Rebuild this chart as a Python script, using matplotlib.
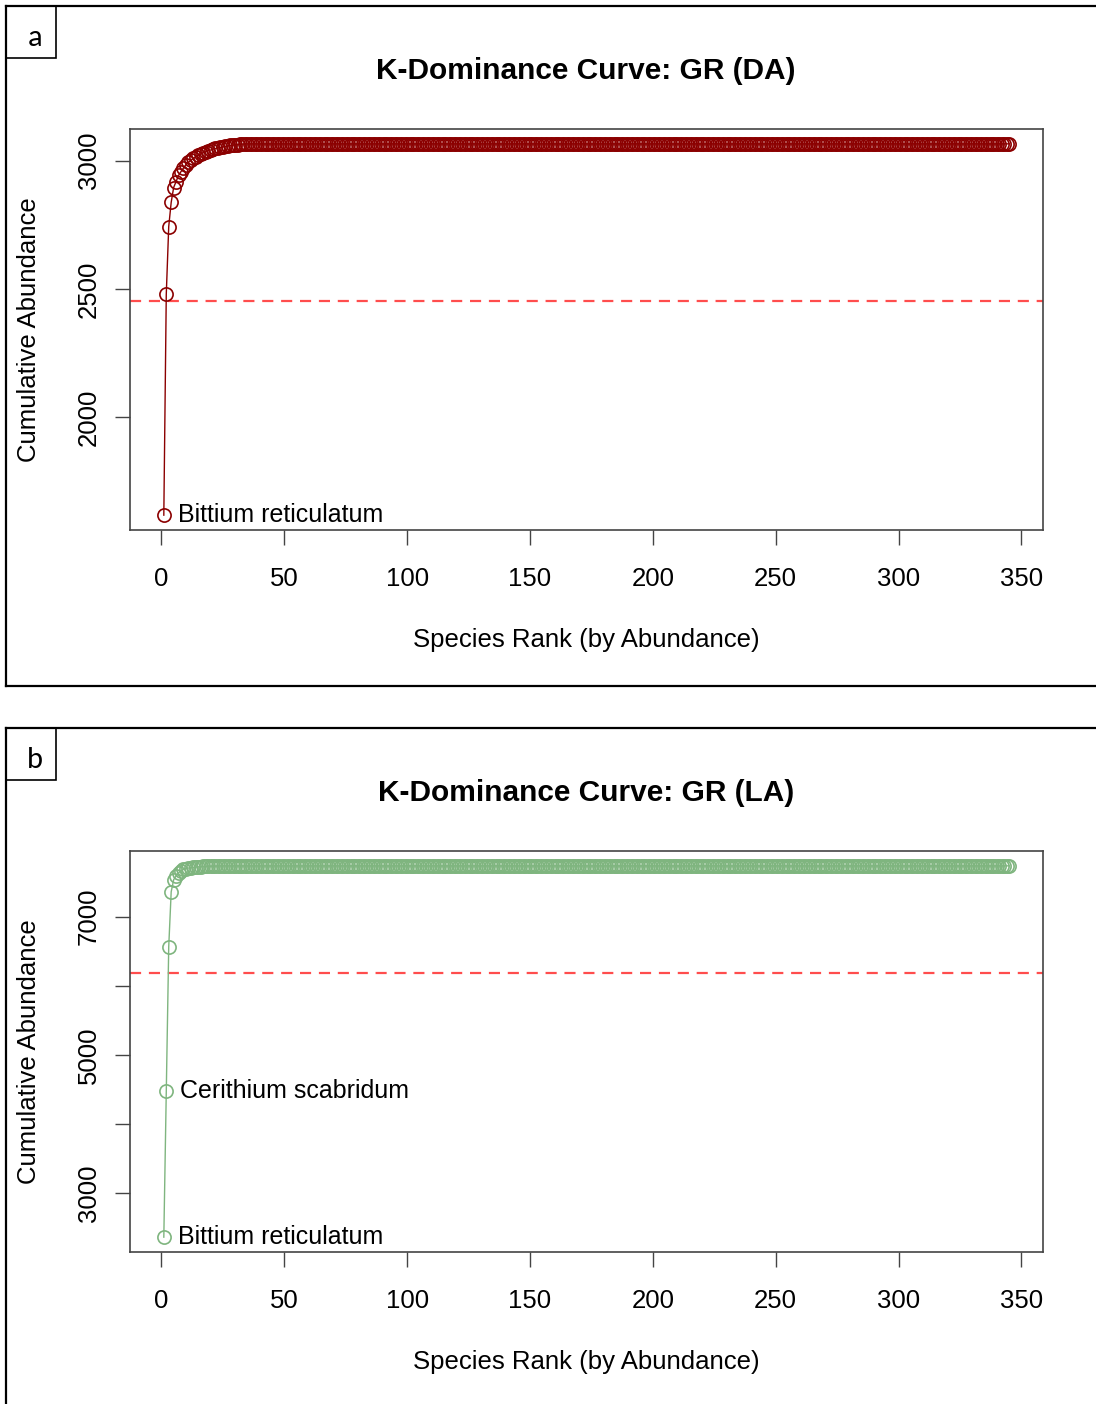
import numpy as np
import matplotlib
matplotlib.use("Agg")
import matplotlib.pyplot as plt
from matplotlib.lines import Line2D
from matplotlib.patches import Rectangle

plt.rcParams["font.family"] = ["Liberation Sans", "DejaVu Sans"]

N_SPECIES = 345

# abundances of the species present, ranked; remaining species are absent (0)
abund_da = [1619, 860, 264, 94, 58, 23, 24, 15, 14, 13,
            9, 8, 7, 6, 6, 5, 5, 4, 4, 3, 3, 3,
            2, 2, 2, 2, 2, 2, 1, 1, 1, 1, 1, 1]
abund_la = [2365, 2108, 2094, 794, 173, 58, 43, 29, 20, 12,
            8, 6, 5, 4, 3, 3, 2, 2, 2, 1, 1, 1, 1, 1]

labels_da = {1: "Bittium reticulatum"}
labels_la = {1: "Bittium reticulatum", 2: "Cerithium scabridum"}

xticks = [0, 50, 100, 150, 200, 250, 300, 350]
yticks_da = [2000, 2500, 3000]
yticks_la = [3000, 4000, 5000, 6000, 7000]
ylabels_la = ["3000", "", "5000", "", "7000"]

W, H = 1096, 1404
fig = plt.figure(figsize=(W / 100, H / 100), dpi=100)


def fx(px):
    return px / W


def fy(py):
    return 1 - py / H


def panel(top, bottom, letter):
    # outer frame of the panel, open on the right
    kw = dict(color="black", lw=1.6, transform=fig.transFigure)
    fig.add_artist(Line2D([fx(6), 1.0], [fy(top), fy(top)], **kw))
    fig.add_artist(Line2D([fx(6), fx(6)], [fy(top), fy(bottom)], **kw))
    if bottom < H:
        fig.add_artist(Line2D([fx(6), 1.0], [fy(bottom), fy(bottom)], **kw))
    fig.add_artist(Rectangle((fx(6), fy(top + 52)), fx(50), 52 / H,
                             fill=False, ec="black", lw=1.2, transform=fig.transFigure))
    fig.text(fx(35), fy(top + 40), letter, fontsize=22, ha="center", va="baseline",
             family=["Carlito", "Liberation Sans", "DejaVu Sans"])


def kdom(ax_top, title, abund, color, yticks, ylabels, labels):
    ax = fig.add_axes([fx(130), fy(ax_top + 401), fx(913), 401 / H])
    counts = np.zeros(N_SPECIES)
    counts[:len(abund)] = abund
    cum = np.cumsum(counts)
    rank = np.arange(1, N_SPECIES + 1)
    ax.plot(rank, cum, "-", color=color, lw=1.0, zorder=2)
    ax.plot(rank, cum, "o", ms=9.5, mfc="none", mec=color, mew=1.2, zorder=3)
    ax.axhline(0.8 * cum[-1], color="#ff4d4d", lw=1.6, ls=(0, (5, 3.5)), zorder=1)
    for r, name in labels.items():
        ax.annotate(name, (r, cum[r - 1]), xytext=(10, 0), textcoords="offset points",
                    fontsize=18, va="center", ha="left")
    span = cum.max() - cum.min()
    ax.set_ylim(cum.min() - 0.04 * span, cum.max() + 0.04 * span)
    ax.set_xlim(1 - 0.04 * (N_SPECIES - 1), N_SPECIES + 0.04 * (N_SPECIES - 1))
    ax.set_xticks(xticks)
    ax.set_xticklabels([str(t) for t in xticks], fontsize=18.5)
    ax.set_yticks(yticks)
    ax.set_yticklabels(ylabels, fontsize=18.5, rotation=90, va="center")
    ax.tick_params(length=11, width=1.0, color="#444444")
    ax.tick_params(axis="x", pad=16)
    ax.tick_params(axis="y", pad=10)
    for s in ax.spines.values():
        s.set_color("#444444")
        s.set_linewidth(1.2)
    ax.set_xlabel("Species Rank (by Abundance)", fontsize=18.5, labelpad=26)
    ax.set_ylabel("Cumulative Abundance", fontsize=18.5, labelpad=26)
    fig.text(fx(586), fy(ax_top - 58), title, fontsize=21.5, fontweight="bold",
             ha="center", va="center")
    return ax


panel(6, 686, "a")
kdom(129, "K-Dominance Curve: GR (DA)", abund_da, "#8b0000",
     yticks_da, [str(t) for t in yticks_da], labels_da)

panel(728, H + 10, "b")
kdom(851, "K-Dominance Curve: GR (LA)", abund_la, "#7fb57f",
     yticks_la, ylabels_la, labels_la)

fig.savefig("out.png", dpi=100, facecolor="white")
